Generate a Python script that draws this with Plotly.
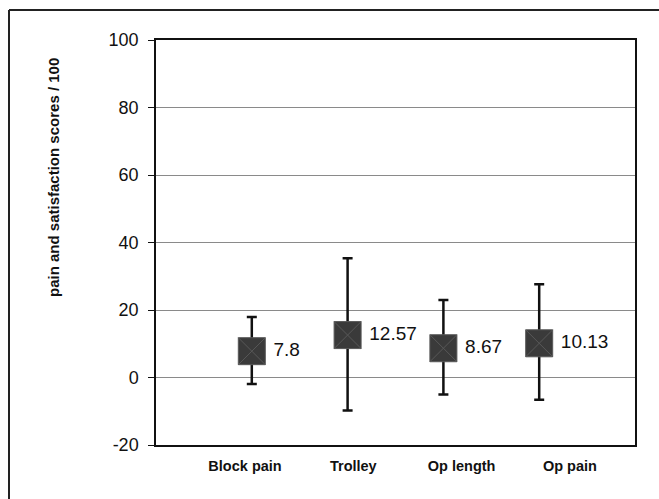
import plotly.graph_objects as go

categories = ["Block pain", "Trolley", "Op length", "Op pain"]
means = [7.8, 12.57, 8.67, 10.13]
upper = [17.9, 35.3, 23.0, 27.6]
lower = [-1.9, -9.8, -5.0, -6.6]
labels = ["7.8", "12.57", "8.67", "10.13"]
x_pos = [1, 2, 3, 4]
y_ticks = [-20, 0, 20, 40, 60, 80, 100]
y_ticktext = ["-20", "0", "20", "40", "60", "80", "100"]

err_plus = [u - m for u, m in zip(upper, means)]
err_minus = [m - l for l, m in zip(lower, means)]

fig = go.Figure()
fig.add_trace(go.Scatter(
    x=x_pos, y=means, mode="markers+text",
    text=["\u2009" + t for t in labels], textposition="middle right",
    textfont=dict(family="Arial, Liberation Sans", size=19, color="#111"),
    marker=dict(symbol="square-x", size=27, color="#3a3a3a",
                line=dict(color="#585858", width=1)),
    error_y=dict(type="data", symmetric=False, array=err_plus, arrayminus=err_minus,
                 color="#111", thickness=2.5, width=5),
    showlegend=False, cliponaxis=False,
))
# invisible trace carrying the category label axis (labels are offset from marks in the original)
fig.add_trace(go.Scatter(
    x=x_pos, y=means, xaxis="x2", mode="markers",
    marker=dict(opacity=0), hoverinfo="skip", showlegend=False,
))

L, R, T, B = 156, 24, 40, 54
W, H = 659, 499
pw, ph = W - L - R, H - T - B

fig.update_layout(
    width=W, height=H, margin=dict(l=L, r=R, t=T, b=B),
    paper_bgcolor="white", plot_bgcolor="white",
    font=dict(family="Arial, Liberation Sans", color="#111"),
    xaxis=dict(range=[0, 5], tickvals=x_pos, showticklabels=False,
               showgrid=False, zeroline=False, showline=True, linecolor="#111",
               linewidth=1.5, mirror=True, ticks="", fixedrange=True),
    xaxis2=dict(range=[0.178, 4.601], overlaying="x", side="bottom", anchor="y",
                tickvals=x_pos, ticktext=categories,
                tickfont=dict(size=14.5, family="Arial, Liberation Sans", weight="bold"),
                ticklabelstandoff=10, showgrid=False, zeroline=False, showline=False,
                ticks=""),
    yaxis=dict(range=[-20, 100], tickvals=y_ticks, ticktext=y_ticktext,
               tickfont=dict(size=18), ticklabelstandoff=6,
               showgrid=True, gridcolor="#8a8a8a", gridwidth=1,
               zeroline=False, showline=True, linecolor="#111", linewidth=1.5, mirror=True,
               ticks="outside", ticklen=6, tickcolor="#111", tickwidth=1),
    annotations=[dict(text="<b>pain and satisfaction scores / 100</b>", textangle=-90,
                      xref="paper", yref="paper", x=(53 - L) / pw, y=(H - B - 178) / ph,
                      xanchor="center", yanchor="middle", showarrow=False,
                      font=dict(size=15, family="Arial, Liberation Sans", color="#111"))],
    shapes=[
        dict(type="line", xref="paper", yref="paper",
             x0=(9 - L) / pw, x1=(9 - L) / pw, y0=(H - B - 10) / ph, y1=(H - B - 520) / ph,
             line=dict(color="#222", width=2)),
        dict(type="line", xref="paper", yref="paper",
             x0=(9 - L) / pw, x1=(680 - L) / pw, y0=(H - B - 10) / ph, y1=(H - B - 10) / ph,
             line=dict(color="#222", width=2)),
    ],
)

fig.write_html("out.html")
